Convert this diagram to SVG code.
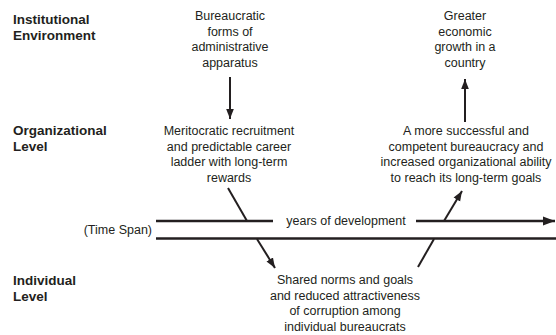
<svg xmlns="http://www.w3.org/2000/svg" width="556" height="335" viewBox="0 0 556 335">
<defs>
<style>
text{font-family:"Liberation Sans",Arial,sans-serif;fill:#231f20;}
.lbl{font-size:13.5px;font-weight:bold;}
.body{font-size:12.5px;text-anchor:middle;}
.ln{stroke:#231f20;stroke-width:2;fill:none;}
.hl{stroke:#231f20;stroke-width:2.5;fill:none;}
</style>
<marker id="ah" viewBox="0 0 10 10" refX="10" refY="5" markerWidth="5" markerHeight="5" markerUnits="strokeWidth" orient="auto">
<path d="M0,1.2 L10,5 L0,8.8 Z" fill="#231f20"/>
</marker>
</defs>
<rect width="556" height="335" fill="#fff"/>
<g id="levels">
<text class="lbl" x="13" y="24">Institutional</text>
<text class="lbl" x="13" y="39.5">Environment</text>
<text class="lbl" x="13" y="135">Organizational</text>
<text class="lbl" x="13" y="151">Level</text>
<text class="lbl" x="13" y="285">Individual</text>
<text class="lbl" x="13" y="301">Level</text>
</g>
<g id="bureaucratic">
<text class="body" x="230" y="20">Bureaucratic</text>
<text class="body" x="230" y="35.5">forms of</text>
<text class="body" x="230" y="51">administrative</text>
<text class="body" x="230" y="66.5">apparatus</text>
</g>
<g id="growth">
<text class="body" x="465" y="20">Greater</text>
<text class="body" x="465" y="35.5">economic</text>
<text class="body" x="465" y="51">growth in a</text>
<text class="body" x="465" y="66.5">country</text>
</g>
<g id="meritocratic">
<text class="body" x="229" y="135">Meritocratic recruitment</text>
<text class="body" x="229" y="150.5">and predictable career</text>
<text class="body" x="229" y="166">ladder with long-term</text>
<text class="body" x="229" y="181.5">rewards</text>
</g>
<g id="competent">
<text class="body" x="466" y="135">A more successful and</text>
<text class="body" x="466" y="150.5">competent bureaucracy and</text>
<text class="body" x="466" y="166">increased organizational ability</text>
<text class="body" x="466" y="181.5">to reach its long-term goals</text>
</g>
<g id="shared">
<text class="body" x="345" y="284">Shared norms and goals</text>
<text class="body" x="345" y="299.5">and reduced attractiveness</text>
<text class="body" x="345" y="315">of corruption among</text>
<text class="body" x="345" y="330.5">individual bureaucrats</text>
</g>
<g id="timespan">
<text class="body" x="152" y="234" style="text-anchor:end">(Time Span)</text>
<text class="body" x="346" y="225">years of development</text>
</g>
<g id="connectors">
<line class="hl" x1="156" y1="221" x2="273" y2="221"/>
<line class="hl" x1="416" y1="221" x2="555" y2="221" marker-end="url(#ah)"/>
<line class="hl" x1="156" y1="238.5" x2="556" y2="238.5"/>
<line class="ln" x1="230" y1="77" x2="230" y2="119" marker-end="url(#ah)"/>
<line class="ln" x1="465" y1="122" x2="465" y2="79" marker-end="url(#ah)"/>
<line class="ln" x1="228" y1="188" x2="247" y2="221"/>
<line class="ln" x1="257" y1="239" x2="275" y2="268" marker-end="url(#ah)"/>
<line class="ln" x1="444" y1="221" x2="462" y2="191" marker-end="url(#ah)"/>
<line class="ln" x1="434" y1="239" x2="418" y2="267"/>
</g>
</svg>
